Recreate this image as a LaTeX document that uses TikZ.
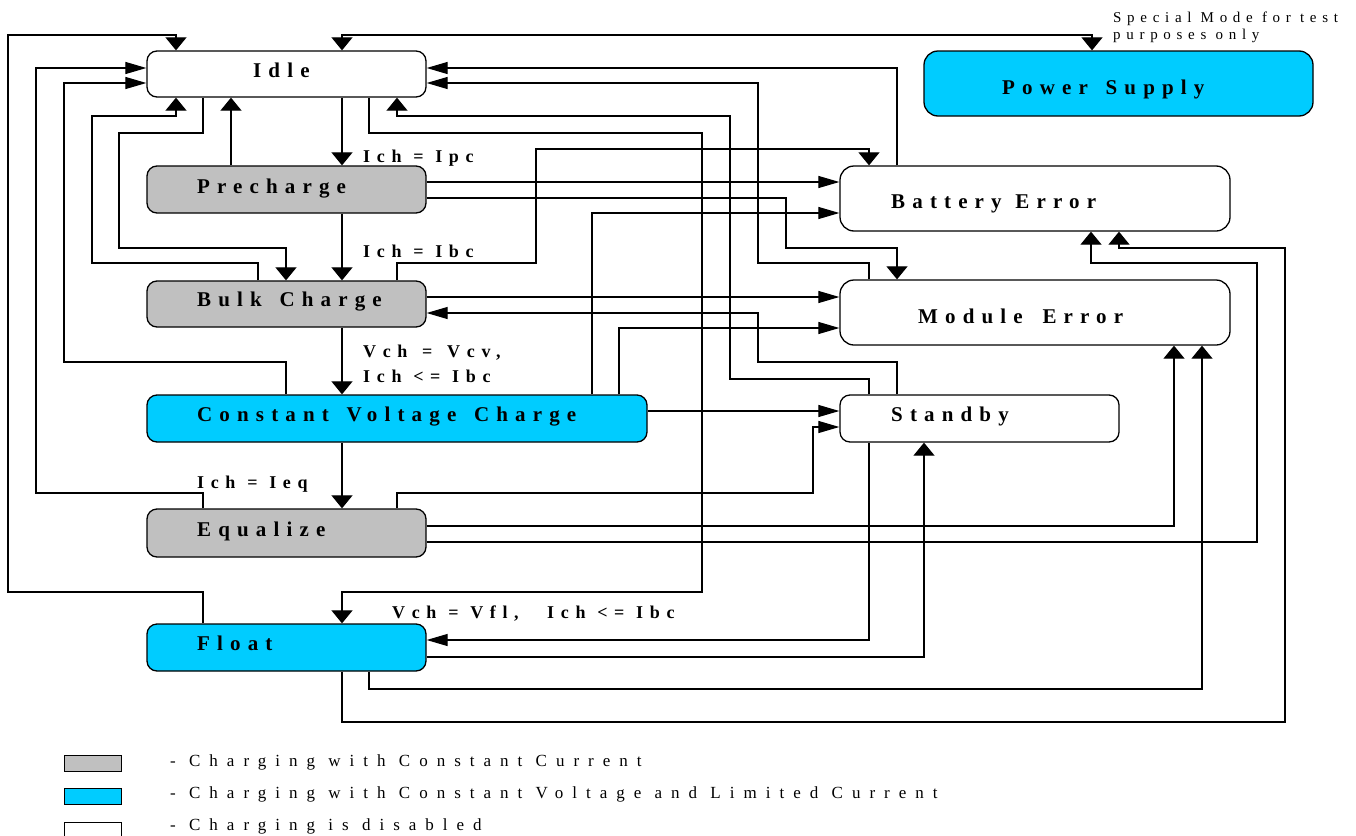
\documentclass[tikz,border=0pt]{standalone}
\usepackage{fontspec}
\setmainfont{Liberation Serif}
\newfontfamily\bsp{Liberation Serif}[LetterSpace=34, WordSpace=2]
\newfontfamily\lsp{Liberation Serif}[LetterSpace=37, WordSpace=1.5]
\newfontfamily\rsp{Liberation Serif}[LetterSpace=53]
\newfontfamily\ssp{Liberation Serif}[LetterSpace=38, WordSpace=1.5]
\newcommand{\tsp}{\hspace{-7pt}}
\newcommand{\csp}{\hspace{-5pt}}
\usetikzlibrary{arrows.meta}
\definecolor{cybox}{HTML}{00CCFF}
\definecolor{grbox}{HTML}{C0C0C0}
\begin{document}
\begin{tikzpicture}[x=1pt,y=-1pt,
  box/.style={draw, line width=1.3pt, rounded corners=10pt, inner sep=0pt, fill=white},
  bigbox/.style={box, rounded corners=14pt},
  wire/.style={line width=1.2pt},
  av/.style={wire, -{Triangle[length=13pt,width=21pt]}},
  ah/.style={wire, -{Triangle[length=21pt,width=12pt]}},
  avv/.style={wire, {Triangle[length=13pt,width=21pt]}-{Triangle[length=13pt,width=21pt]}},
  ttl/.style={inner sep=0pt, anchor=base west, font=\bsp\bfseries\fontsize{21pt}{21pt}\selectfont},
  cond/.style={inner sep=0pt, anchor=base west, font=\lsp\bfseries\fontsize{18pt}{18pt}\selectfont},
  leg/.style={inner sep=0pt, anchor=base west, font=\rsp\fontsize{17pt}{17pt}\selectfont},
  note/.style={inner sep=0pt, anchor=base west, font=\ssp\fontsize{15pt}{15pt}\selectfont},
  legbox/.style={draw, line width=1pt, minimum width=57pt, minimum height=16pt, inner sep=0pt},
]
\useasboundingbox (0,0) rectangle (1356,835);

% boxes
\node[box, minimum width=279pt, minimum height=46pt] (idle) at (286.5,74) {};
\node[box, fill=grbox, minimum width=279pt, minimum height=47pt] (pre) at (286.5,189.5) {};
\node[box, fill=grbox, minimum width=279pt, minimum height=46pt] (bulk) at (286.5,304) {};
\node[box, fill=cybox, minimum width=500pt, minimum height=47pt] (cvc) at (397,418.5) {};
\node[box, fill=grbox, minimum width=279pt, minimum height=48pt] (eq) at (286.5,533) {};
\node[box, fill=cybox, minimum width=279pt, minimum height=47pt] (float) at (286.5,647.5) {};
\node[bigbox, minimum width=390pt, minimum height=65pt] (be) at (1035,198.5) {};
\node[bigbox, minimum width=390pt, minimum height=65pt] (me) at (1035,312.5) {};
\node[box, minimum width=279pt, minimum height=47pt] (stby) at (979.5,418.5) {};
\node[bigbox, fill=cybox, minimum width=389pt, minimum height=65pt] (ps) at (1118.5,83.5) {};

% box titles
\node[ttl] (idleT) at (253,77) {Idle};
\node[ttl] (preT) at (197,193) {Precharge};
\node[ttl] (bulkT) at (197,306) {Bulk \tsp Charge};
\node[ttl] (cvcT) at (197,421) {Constant \tsp Voltage \tsp Charge};
\node[ttl] (eqT) at (197,536) {Equalize};
\node[ttl] (floatT) at (197,650) {Float};
\node[ttl] (beT) at (891,208) {Battery \hspace{-11pt}Error};
\node[ttl] (meT) at (918,323) {Module \csp Error};
\node[ttl] (stbyT) at (891,421) {Standby};
\node[ttl] (psT) at (1002,94) {Power \tsp Supply};

% conditions
\node[cond] (c1) at (363,162) {Ich \csp = \csp Ipc};
\node[cond] (c2) at (363,257) {Ich \csp = \csp Ibc};
\node[cond] (c3a) at (363,357) {Vch \hspace{-2pt}= \hspace{-2pt}Vcv,};
\node[cond] (c3b) at (363,382) {Ich \csp <= \csp Ibc};
\node[cond] (c4) at (197,488) {Ich \csp = \csp Ieq};
\node[cond] (c5) at (392,618) {Vch \csp = \csp Vfl,\ \ \csp Ich \csp <= \csp Ibc};

% note
\node[note] (n1) at (1113,22) {Special \csp Mode \csp for \csp test};
\node[note] (n2) at (1113,39) {purposes \csp only};

% connectors
\draw[av] (342,0 |- idle.south) -- (342,0 |- pre.north);
\draw[av] (342,0 |- pre.south) -- (342,0 |- bulk.north);
\draw[av] (342,0 |- bulk.south) -- (342,0 |- cvc.north);
\draw[av] (342,0 |- cvc.south) -- (342,0 |- eq.north);
\draw[av] (231,0 |- pre.north) -- (231,0 |- idle.south);
\draw[av] (203,0 |- idle.south) -- (203,133) -- (119,133) -- (119,248) -- (286,248) -- (286,0 |- bulk.north);
\draw[av] (258,0 |- bulk.north) -- (258,263) -- (92,263) -- (92,116) -- (176,116) -- (176,0 |- idle.south);
\draw[ah] (286,0 |- cvc.north) -- (286,362) -- (64,362) -- (64,83) -- (0,83 -| idle.west);
\draw[ah] (203,0 |- eq.north) -- (203,493) -- (36,493) -- (36,68) -- (0,68 -| idle.west);
\draw[av] (203,0 |- float.north) -- (203,592) -- (8,592) -- (8,35) -- (176,35) -- (176,0 |- idle.north);
\draw[avv] (342,0 |- idle.north) -- (342,35) -- (1092,35) -- (1092,0 |- ps.north);
\draw[av] (369,0 |- idle.south) -- (369,133) -- (702,133) -- (702,592) -- (342,592) -- (342,0 |- float.north);
\draw[av] (869,0 |- stby.north) -- (869,379) -- (730,379) -- (730,116) -- (397,116) -- (397,0 |- idle.south);
\draw[ah] (897,0 |- be.north) -- (897,68) -- (0,68 -| idle.east);
\draw[ah] (869,0 |- me.north) -- (869,263) -- (758,263) -- (758,83) -- (0,83 -| idle.east);
\draw[av] (397,0 |- bulk.north) -- (397,263) -- (536,263) -- (536,149) -- (869,149) -- (869,0 |- be.north);
\draw[ah] (0,182 -| pre.east) -- (0,182 -| be.west);
\draw[av] (0,198 -| pre.east) -- (786,198) -- (786,248) -- (897,248) -- (897,0 |- me.north);
\draw[ah] (592,0 |- cvc.north) -- (592,213) -- (0,213 -| be.west);
\draw[ah] (0,297 -| bulk.east) -- (0,297 -| me.west);
\draw[ah] (897,0 |- stby.north) -- (897,362) -- (758,362) -- (758,313) -- (0,313 -| bulk.east);
\draw[ah] (619,0 |- cvc.north) -- (619,328) -- (0,328 -| me.west);
\draw[ah] (0,411 -| cvc.east) -- (0,411 -| stby.west);
\draw[ah] (397,0 |- eq.north) -- (397,493) -- (813,493) -- (813,427) -- (0,427 -| stby.west);
\draw[av] (0,526 -| eq.east) -- (1174,526) -- (1174,0 |- me.south);
\draw[av] (0,542 -| eq.east) -- (1257,542) -- (1257,263) -- (1091,263) -- (1091,0 |- be.south);
\draw[ah] (869,0 |- stby.south) -- (869,640) -- (0,640 -| float.east);
\draw[av] (0,657 -| float.east) -- (924,657) -- (924,0 |- stby.south);
\draw[av] (369,0 |- float.south) -- (369,689) -- (1202,689) -- (1202,0 |- me.south);
\draw[av] (342,0 |- float.south) -- (342,722) -- (1285,722) -- (1285,248) -- (1119,248) -- (1119,0 |- be.south);

% legend
\node[legbox, fill=grbox] (lg1) at (92.5,763.5) {};
\node[legbox, fill=cybox] (lg2) at (92.5,796) {};
\node[legbox, fill=white] (lg3) at (92.5,830) {};
\node[leg] (lt1) at (170,766) {- Charging with Constant Current};
\node[leg] (lt2) at (170,798) {- Charging with Constant Voltage and Limited Current};
\node[leg] (lt3) at (170,830) {- Charging is disabled};
\end{tikzpicture}
\end{document}
